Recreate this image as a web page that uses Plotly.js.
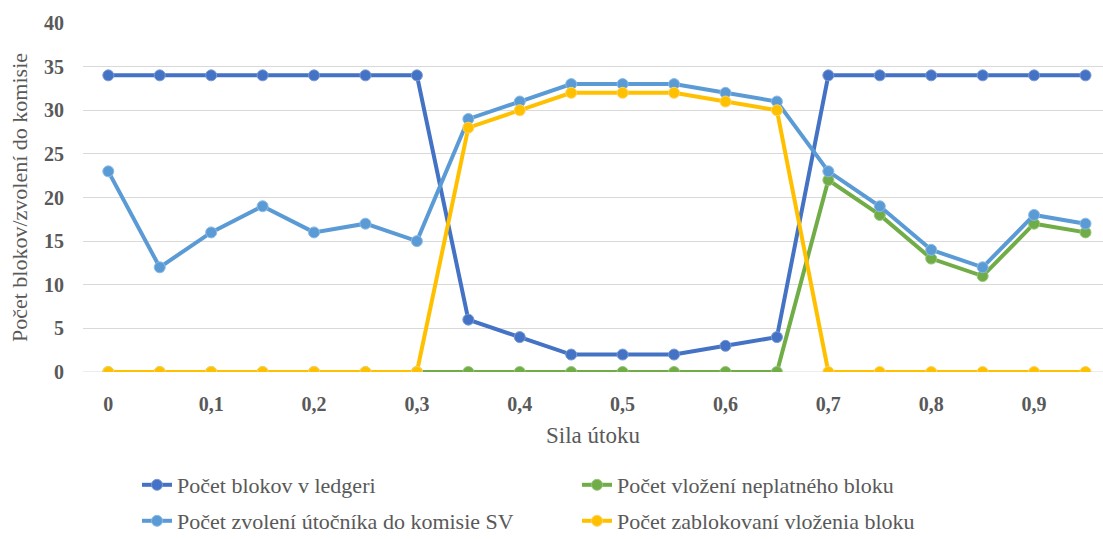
<!DOCTYPE html>
<html>
<head>
<meta charset="utf-8">
<script src="https://cdn.plot.ly/plotly-3.0.1.min.js"></script>
<style>html,body{margin:0;padding:0;background:#fff;}#chart{width:1103px;height:539px;}
#chart text{font-family:'Liberation Serif' !important;}</style>
</head>
<body>
<div id="chart"></div>
<script>
const sila = [0,0.05,0.1,0.15,0.2,0.25,0.3,0.35,0.4,0.45,0.5,0.55,0.6,0.65,0.7,0.75,0.8,0.85,0.9,0.95];
const blokovLedger = [34,34,34,34,34,34,34,6,4,2,2,2,3,4,34,34,34,34,34,34];
const vlozenieNeplatneho = [0,0,0,0,0,0,0,0,0,0,0,0,0,0,22,18,13,11,17,16];
const zvolenieUtocnika = [23,12,16,19,16,17,15,29,31,33,33,33,32,31,23,19,14,12,18,17];
const zablokovanieVlozenia = [0,0,0,0,0,0,0,28,30,32,32,32,31,30,0,0,0,0,0,0];
const xTickVals = [0,0.1,0.2,0.3,0.4,0.5,0.6,0.7,0.8,0.9];
const xTickText = ['0','0,1','0,2','0,3','0,4','0,5','0,6','0,7','0,8','0,9'];
const yTickVals = [0,5,10,15,20,25,30,35,40];
const seriesNames = ['Počet blokov v ledgeri','Počet vložení neplatného bloku','Počet zvolení útočníka do komisie SV','Počet zablokovaní vloženia bloku'];

const series = [blokovLedger, vlozenieNeplatneho, zvolenieUtocnika, zablokovanieVlozenia];
const colors = ['#4472C4','#70AD47','#5B9BD5','#FFC000'];
const rims = ['#7a9ad6','#98c57c','#8bbbe6','#ffd466'];
const legendIds = ['legend','legend2','legend3','legend4'];
const SERIF = 'Liberation Serif';

const traces = series.map((s,i)=>({
  x: sila, y: s, type:'scatter', mode:'lines+markers', name: seriesNames[i],
  line:{color:colors[i], width:4},
  marker:{color:colors[i], size:11, line:{color:rims[i], width:1}},
  legend: legendIds[i], hoverinfo:'skip'
}));

const plotL = 83, plotW = 1020, plotT = 23, plotH = 349;
function px(xp){return (xp-plotL)/plotW;}
function py(yp){return (plotT+plotH-yp)/plotH;}
const legFont = {family:SERIF, size:22, color:'#595959'};
function leg(xp, yp){return {x:px(xp), y:py(yp), xanchor:'left', yanchor:'middle', font:legFont, bgcolor:'rgba(0,0,0,0)', borderwidth:0, itemwidth:30};}

const layout = {
  width:1103, height:539,
  margin:{l:plotL, r:0, t:plotT, b:539-plotT-plotH, pad:0, autoexpand:false},
  paper_bgcolor:'#fff', plot_bgcolor:'#fff',
  font:{family:SERIF, size:20, color:'#595959'},
  xaxis:{
    range:[-0.0246, 0.967], tickvals:xTickVals, ticktext:xTickText,
    tickfont:{family:SERIF, size:20, color:'#595959', weight:'bold'},
    showgrid:false, zeroline:false, showline:false, ticks:'', ticklabelstandoff:18,
    title:{text:'Sila útoku', font:{family:SERIF, size:23, color:'#595959'}, standoff:12},
    automargin:false, fixedrange:true
  },
  yaxis:{
    range:[0,40], tickvals:yTickVals,
    tickfont:{family:SERIF, size:20, color:'#595959', weight:'bold'},
    showgrid:true, gridcolor:'#D9D9D9', gridwidth:1, zeroline:false, showline:false, ticks:'', ticklabelstandoff:18,
    title:{text:'Počet blokov/zvolení do komisie', font:{family:SERIF, size:22, color:'#595959'}, standoff:10},
    automargin:false, fixedrange:true
  },
  shapes:[{type:'line', xref:'paper', yref:'y', x0:0, x1:1, y0:0, y1:0, line:{color:'#D9D9D9', width:1}, layer:'below'}],
  legend: leg(137, 485),
  legend2: leg(577, 485),
  legend3: leg(137, 521),
  legend4: leg(577, 521),
  showlegend:true
};
Plotly.newPlot('chart', traces, layout, {displayModeBar:false, staticPlot:true});
</script>
</body>
</html>
